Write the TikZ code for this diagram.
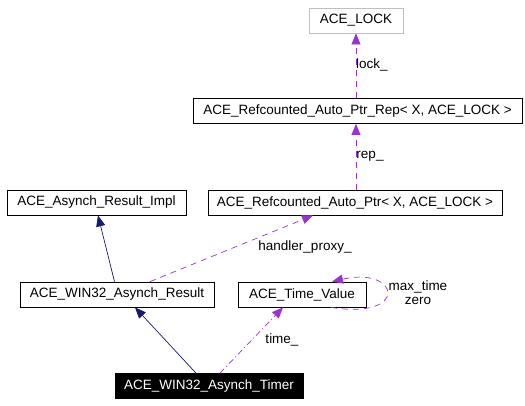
\documentclass[tikz,border=0pt]{standalone}
\usepackage{fontspec}
\setmainfont{Liberation Sans}
\usetikzlibrary{arrows.meta}
\definecolor{inherit}{HTML}{191970}
\definecolor{usage}{HTML}{9A32CD}
\tikzset{
	classbox/.style = {draw = black, fill = white, inner sep = 0pt, line width = 0.8pt,
					   minimum height = 25pt, font = \fontsize{13.5}{15}\selectfont},
	edgelabel/.style = {inner sep = 0pt, font = \fontsize{13.5}{15}\selectfont},
	inheritline/.style = {draw = inherit, line width = 0.7pt,
						  -{Triangle[length=11pt, width=9pt]}},
	usageline/.style = {draw = usage, line width = 0.7pt, dash pattern = on 6pt off 5pt,
						-{Triangle[length=11pt, width=9pt]}}
}
\begin{document}
\begin{tikzpicture}[x = 1pt, y = -1pt]
	\useasboundingbox (0, 0) rectangle (525, 405);

	\draw (356, 20.5) node[classbox, draw = gray!50,
					  minimum width = 94pt
			   ](Lock){ACE\_LOCK};
	\draw (357.5, 111) node[classbox,
					  minimum width = 329pt
			   ](Rep){ACE\_Refcounted\_Auto\_Ptr\_Rep< X, ACE\_LOCK >};
	\draw (96.5, 202.5) node[classbox,
					  minimum width = 179pt
			   ](Impl){ACE\_Asynch\_Result\_Impl};
	\draw (355, 202.5) node[classbox,
					  minimum width = 294pt
			   ](AutoPtr){ACE\_Refcounted\_Auto\_Ptr< X, ACE\_LOCK >};
	\draw (117, 294.5) node[classbox,
					  minimum width = 194pt
			   ](Result){ACE\_WIN32\_Asynch\_Result};
	\draw (302, 294.5) node[classbox,
					  minimum width = 128pt
			   ](TimeValue){ACE\_Time\_Value};
	\draw (209, 386) node[classbox, fill = black, text = white,
					  minimum width = 188pt
			   ](Timer){ACE\_WIN32\_Asynch\_Timer};

	\draw[inheritline] ([xshift = -2.5pt]Result.north) -- ([xshift = 1.5pt]Impl.south);
	\draw[inheritline] ([xshift = -13pt]Timer.north) -- ([xshift = 18pt]Result.south);

	\draw[usageline] ([xshift = 33pt]Result.north) -- ([xshift = -42pt]AutoPtr.south);
	\draw[usageline, dash pattern = on 6pt off 3pt on 1pt off 3pt]
		([xshift = 11pt]Timer.north) -- ([xshift = -19pt]TimeValue.south);
	\draw[usageline] ([xshift = 29pt]TimeValue.south)
		.. controls (410, 320) and (400, 266) .. ([xshift = 30pt]TimeValue.north);

	\draw[usageline] ([xshift = 1pt]AutoPtr.north) -- ([xshift = -1.5pt]Rep.south);
	\draw[usageline] ([xshift = -1.5pt]Rep.north) -- (Lock.south);

	\node[edgelabel] (HandlerLabel) at (305, 247) {handler\_proxy\_};
	\node[edgelabel] (TimeLabel) at (282, 340) {time\_};
	\node[edgelabel] (MaxLabel) at (418, 286.5) {max\_time};
	\node[edgelabel] (ZeroLabel) at (418, 300.5) {zero};
	\node[edgelabel] (RepLabel) at (370, 156) {rep\_};
	\node[edgelabel] (LockLabel) at (372, 65) {lock\_};
\end{tikzpicture}
\end{document}
